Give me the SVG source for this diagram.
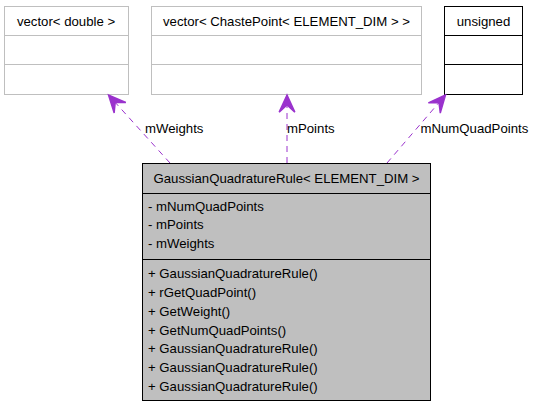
<svg xmlns="http://www.w3.org/2000/svg" width="533" height="408" viewBox="0 0 533 408">
<style>
text{font-family:"Liberation Sans",Arial,sans-serif;font-size:13.2px;fill:#000}
.c{text-anchor:middle}
.g{fill:#fff;stroke:#bfbfbf;stroke-width:1}
.b{fill:#fff;stroke:#000;stroke-width:1}
.m{fill:#bfbfbf;stroke:#000;stroke-width:1}
.gl{stroke:#bfbfbf;stroke-width:1}
.bl{stroke:#000;stroke-width:1}
.e{fill:none;stroke:#9a32cd;stroke-width:1;stroke-dasharray:6,5}
</style>
<defs>
<marker id="a" markerUnits="userSpaceOnUse" markerWidth="20" markerHeight="20" refX="0" refY="0" viewBox="-12 -6 14 12" orient="auto" overflow="visible">
<path d="M0,0 L-12,-5.5 L-7,0 L-12,5.5 Z" fill="#9a32cd" stroke="#9a32cd" stroke-width="1"/>
</marker>
</defs>
<g id="node-vector-double">
<rect class="g" x="4.5" y="6.5" width="124" height="88"/>
<line class="gl" x1="4.5" y1="35.5" x2="128.5" y2="35.5"/>
<line class="gl" x1="4.5" y1="64.5" x2="128.5" y2="64.5"/>
<text class="c" x="66" y="25.5">vector&lt; double &gt;</text>
</g>
<g id="node-vector-chastepoint">
<rect class="g" x="151.5" y="6.5" width="270" height="88"/>
<line class="gl" x1="151.5" y1="35.5" x2="421.5" y2="35.5"/>
<line class="gl" x1="151.5" y1="64.5" x2="421.5" y2="64.5"/>
<text class="c" x="286.5" y="25.5">vector&lt; ChastePoint&lt; ELEMENT_DIM &gt; &gt;</text>
</g>
<g id="node-unsigned">
<rect class="b" x="444.5" y="6.5" width="78" height="88"/>
<line class="bl" x1="444.5" y1="35.5" x2="522.5" y2="35.5"/>
<line class="bl" x1="444.5" y1="64.5" x2="522.5" y2="64.5"/>
<text class="c" x="483.5" y="25.5">unsigned</text>
</g>
<g id="node-gaussian">
<rect class="m" x="142.5" y="163.5" width="288" height="237"/>
<line class="bl" x1="142.5" y1="193.5" x2="430.5" y2="193.5"/>
<line class="bl" x1="142.5" y1="259.5" x2="430.5" y2="259.5"/>
<text class="c" x="286.5" y="182.5">GaussianQuadratureRule&lt; ELEMENT_DIM &gt;</text>
<text x="148" y="211">- mNumQuadPoints</text>
<text x="148" y="229.3">- mPoints</text>
<text x="148" y="247.6">- mWeights</text>
<text x="148" y="277.8">+ GaussianQuadratureRule()</text>
<text x="148" y="296.7">+ rGetQuadPoint()</text>
<text x="148" y="315.6">+ GetWeight()</text>
<text x="148" y="334.5">+ GetNumQuadPoints()</text>
<text x="148" y="353.4">+ GaussianQuadratureRule()</text>
<text x="148" y="372.3">+ GaussianQuadratureRule()</text>
<text x="148" y="391.2">+ GaussianQuadratureRule()</text>
</g>
<g id="connectors">
<path class="e" d="M170,163 L108.5,95" marker-end="url(#a)"/>
<path class="e" d="M287,163 L287,95" marker-end="url(#a)"/>
<path class="e" d="M387,163 L445.5,95" marker-end="url(#a)"/>
<text x="145" y="132.5">mWeights</text>
<text x="287" y="132.5">mPoints</text>
<text x="420.5" y="132.5">mNumQuadPoints</text>
</g>
</svg>
